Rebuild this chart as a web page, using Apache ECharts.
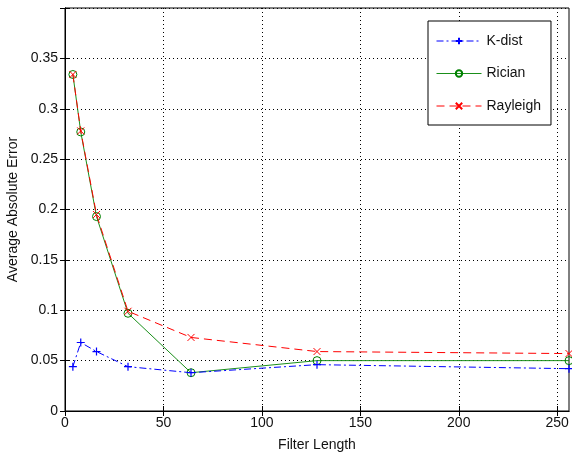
<!DOCTYPE html>
<html>
<head>
<meta charset="utf-8">
<script src="https://cdn.jsdelivr.net/npm/echarts@6/dist/echarts.min.js"></script>
<style>html,body{margin:0;padding:0;background:#fff}#c{width:572px;height:461px}</style>
</head>
<body>
<div id="c"></div>
<script>
var filterLengths = [4, 8, 16, 32, 64, 128, 256];
var kdist    = [0.044, 0.068, 0.059, 0.044, 0.038, 0.046, 0.042];
var rician   = [0.334, 0.277, 0.193, 0.097, 0.038, 0.050, 0.050];
var rayleigh = [0.334, 0.278, 0.195, 0.099, 0.073, 0.059, 0.057];
var xTicks = [0, 50, 100, 150, 200, 250];
var yTicks = [0, 0.05, 0.1, 0.15, 0.2, 0.25, 0.3, 0.35];

function pairs(xs, ys){ return xs.map(function(x,i){ return [x, ys[i]]; }); }

var FONT = 'Liberation Sans, Arial, Helvetica, sans-serif';
var FS = 14;
var TXT = '#111';
var chart = echarts.init(document.getElementById('c'), null, {renderer:'canvas'});
var plusPath = 'path://M0,5L10,5M5,0L5,10';
var crossPath = 'path://M0,0L10,10M10,0L0,10';

var baseX = {
  type:'value', min:0, max:256, interval:50,
  axisLine:{show:true, lineStyle:{color:'#000', width:1}},
  axisTick:{show:true, inside:true, length:5, lineStyle:{color:'#000'}, customValues: xTicks}
};
var baseY = {
  type:'value', min:0, max:0.4, interval:0.05,
  axisLine:{show:true, lineStyle:{color:'#000', width:1}},
  axisTick:{show:true, inside:true, length:5, lineStyle:{color:'#000'}}
};

chart.setOption({
  animation:false,
  backgroundColor:'#fff',
  grid:{left:65, right:3, top:8, bottom:50, containLabel:false, outerBoundsMode:'none',
    show:true, borderColor:'#000', borderWidth:1, backgroundColor:'#fff'},
  legend:{
    orient:'vertical', left:428, top:21,
    padding:[13, 10, 12, 8],
    itemWidth:45, itemHeight:8, itemGap:18.5,
    lineStyle:{width:1},
    backgroundColor:'#fff', borderColor:'#000', borderWidth:1, borderRadius:0,
    textStyle:{fontFamily:FONT, fontSize:FS, color:TXT},
    data:['K-dist','Rician','Rayleigh']
  },
  xAxis:[
    Object.assign({}, baseX, {
      position:'bottom',
      name:'Filter Length', nameLocation:'middle', nameGap:27,
      nameTextStyle:{fontFamily:FONT, fontSize:FS, color:TXT},
      axisLabel:{show:true, fontFamily:FONT, fontSize:FS, color:TXT, margin:5,
        customValues: xTicks},
      splitLine:{show:true, lineStyle:{color:'#000', type:[1,3], width:1}}
    }),
    Object.assign({}, baseX, {
      position:'top', axisLabel:{show:false}, splitLine:{show:false}
    })
  ],
  yAxis:[
    Object.assign({}, baseY, {
      position:'left',
      name:'Average Absolute Error', nameLocation:'middle', nameGap:42,
      nameTextStyle:{fontFamily:FONT, fontSize:FS, color:TXT},
      axisLabel:{show:true, fontFamily:FONT, fontSize:FS, color:TXT, margin:7,
        customValues: yTicks,
        formatter:function(v){ return String(+(+v).toFixed(2)); }},
      splitLine:{show:true, lineStyle:{color:'#000', type:[1,3], width:1}}
    }),
    Object.assign({}, baseY, {
      position:'right', axisLabel:{show:false}, splitLine:{show:false}
    })
  ],
  series:[
    {
      name:'K-dist', type:'line', xAxisIndex:0, yAxisIndex:0,
      data:pairs(filterLengths, kdist),
      symbol:plusPath, symbolSize:8, showAllSymbol:true,
      lineStyle:{color:'#0000ff', width:1, type:[7,3,2,3]},
      itemStyle:{color:'#0000ff', borderColor:'#0000ff', borderWidth:1.2},
      z:3
    },
    {
      name:'Rician', type:'line', xAxisIndex:0, yAxisIndex:0,
      data:pairs(filterLengths, rician),
      symbol:'circle', symbolSize:8, showAllSymbol:true,
      lineStyle:{color:'#1a8f1a', width:1, type:'solid'},
      itemStyle:{color:'rgba(0,0,0,0)', borderColor:'#008000', borderWidth:1},
      z:2
    },
    {
      name:'Rayleigh', type:'line', xAxisIndex:0, yAxisIndex:0,
      data:pairs(filterLengths, rayleigh),
      symbol:crossPath, symbolSize:7, showAllSymbol:true,
      lineStyle:{color:'#ff0000', width:1, type:[8,5]},
      itemStyle:{color:'#ff0000', borderColor:'#ff0000', borderWidth:1},
      z:4
    }
  ]
});
</script>
</body>
</html>
